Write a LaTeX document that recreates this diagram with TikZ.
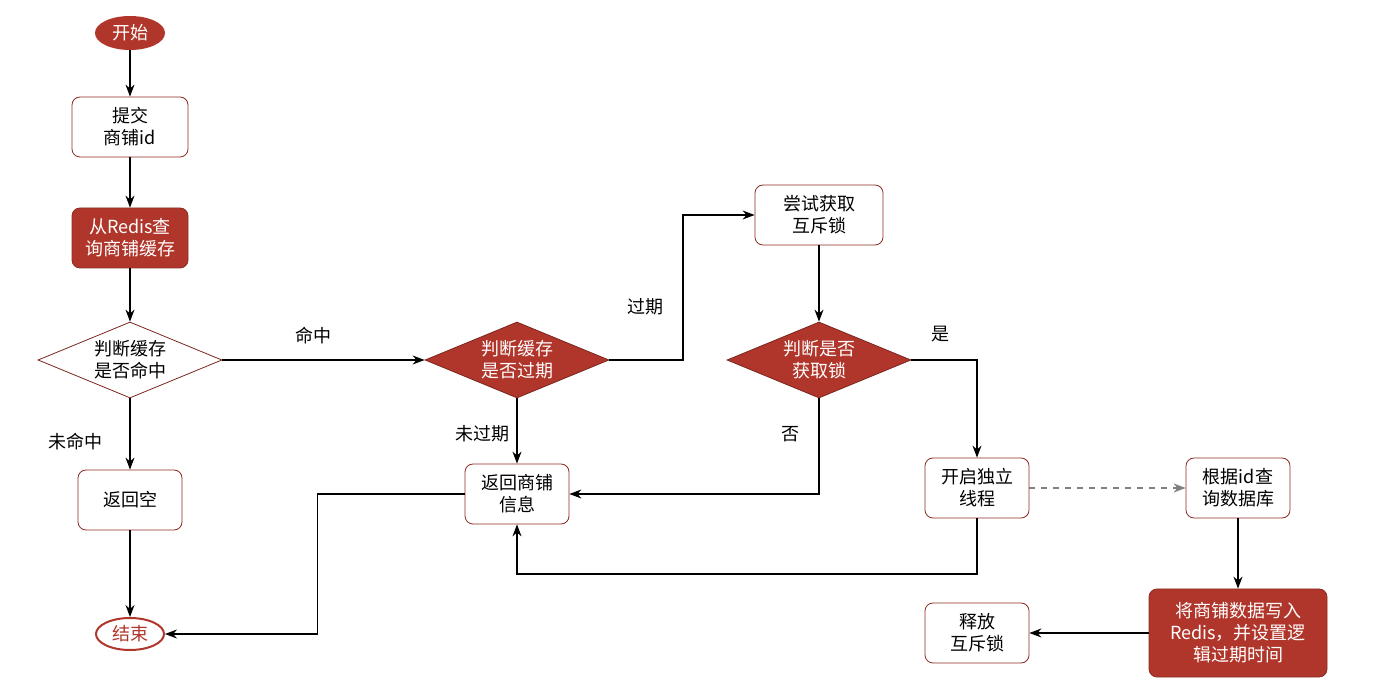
\documentclass[tikz,border=0pt]{standalone}
\usepackage{fontspec}
\setmainfont{Noto Sans CJK SC}
\usetikzlibrary{shapes.geometric,arrows.meta}
\definecolor{dred}{HTML}{B0362B}
\tikzset{
  box/.style={draw=dred!80!black,rounded corners=4pt,fill=white,align=center,minimum width=52pt,minimum height=30pt,font=\small},
  redbox/.style={box,fill=dred,text=white},
  judge/.style={diamond,draw=dred!70!black,aspect=2.4,fill=white,align=center,minimum width=92pt,minimum height=38pt,inner sep=0pt,font=\small},
  redjudge/.style={judge,fill=dred,text=white},
  term/.style={ellipse,draw=dred,line width=1pt,minimum width=34pt,minimum height=16pt,inner sep=0pt,font=\small},
  arr/.style={-{Stealth[length=6pt]},line width=0.6pt},
  lbl/.style={font=\small}
}
\begin{document}
\begin{tikzpicture}[x=0.5pt,y=-0.5pt]
\useasboundingbox (0,0) rectangle (1392,694);
\node[term,fill=dred,text=white] (start) at (130,33) {开始};
\node[box,minimum width=58pt] (submit) at (130,127) {提交\\商铺id};
\node[redbox,minimum width=58pt] (redis) at (130,238) {从Redis查\\询商铺缓存};
\node[judge] (hit) at (130,360) {判断缓存\\是否命中};
\node[box] (empty) at (130,500) {返回空};
\node[term,text=dred,fill=white] (end) at (130,634) {结束};
\node[redjudge] (expire) at (517,360) {判断缓存\\是否过期};
\node[box] (ret) at (517,494) {返回商铺\\信息};
\node[box,minimum width=64pt] (lock) at (819,215) {尝试获取\\互斥锁};
\node[redjudge] (got) at (819,360) {判断是否\\获取锁};
\node[box] (thread) at (977,488) {开启独立\\线程};
\node[box] (query) at (1238,488) {根据id查\\询数据库};
\node[redbox,minimum width=89pt,minimum height=44pt] (write) at (1238,633) {将商铺数据写入\\Redis，并设置逻\\辑过期时间};
\node[box] (release) at (977,633) {释放\\互斥锁};
%
\draw[arr] (start) -- (submit);
\draw[arr] (submit) -- (redis);
\draw[arr] (redis) -- (hit);
\draw[arr] (hit) -- (empty);
\draw[arr] (empty) -- (end);
\draw[arr] (hit) -- (expire);
\draw[arr] (expire.east) -- (683,360) |- (lock.west);
\draw[arr] (expire) -- (ret);
\draw[arr] (lock) -- (got);
\draw[arr] (got.east) -| (thread.north);
\draw[arr] (got.south) |- (ret.east);
\draw[arr] (thread.south) -- (977,574) -| (ret.south);
\draw[arr,dashed,gray] (thread) -- (query);
\draw[arr] (query) -- (write);
\draw[arr] (write) -- (release);
\draw[arr] (ret.west) -- ++(-147,0) |- (end.east);
%
\node[lbl] at (75,442) {未命中};
\node[lbl] at (313,336) {命中};
\node[lbl] at (645,307) {过期};
\node[lbl] at (482,434) {未过期};
\node[lbl] at (940,334) {是};
\node[lbl] at (790,434) {否};
\end{tikzpicture}
\end{document}
